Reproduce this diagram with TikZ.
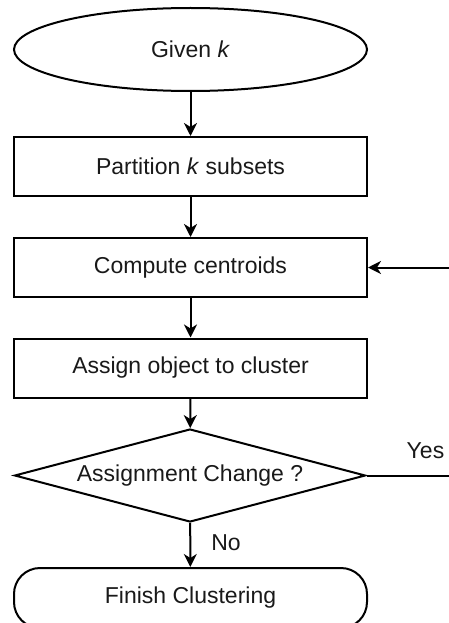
\documentclass[tikz,border=0pt]{standalone}
\usepackage{fontspec}
\setmainfont{Liberation Sans}
\usetikzlibrary{shapes.geometric,arrows.meta}
\begin{document}
\begin{tikzpicture}[x=1pt,y=-1pt,
  every node/.style={font=\fontsize{23}{27}\selectfont, text=black!90},
  base/.style={draw, line width=2pt, inner sep=0pt, align=center},
  oval/.style={base, ellipse, minimum width=353pt, minimum height=83pt},
  stepbox/.style={base, rectangle, minimum width=353pt, minimum height=59pt},
  decision/.style={base, diamond, aspect=3.77, minimum width=351pt, minimum height=93pt},
  terminal/.style={base, rectangle, rounded corners=26pt, minimum width=353pt, minimum height=60pt},
  flow/.style={line width=2pt, -{Stealth[length=13pt,width=13pt,inset=4pt]}},
  lbl/.style={inner sep=0pt}]
  \useasboundingbox (0,0) rectangle (449,623);
  \clip (0,0) rectangle (449,623);

  % process steps
  \node[oval]     (given) at (190.5,49.5) {Given \textit{k}};
  \node[stepbox]  (part)  at (190.5,166.5) {Partition \textit{k} subsets};
  \node[stepbox]  (comp)  at (190.5,267.5) {Compute centroids};
  \node[stepbox]  (asg)   at (190.5,368)   {Assign object to cluster};
  \node[decision] (chg)   at (190,475.5)   {Assignment Change ?};
  \node[terminal] (fin)   at (190.5,598)   {Finish Clustering};

  % loop-back corner, outside the visible frame
  \coordinate (yc) at (470,475.5);

  % connectors
  \draw[flow] (given) -- (part);
  \draw[flow] (part) -- (comp);
  \draw[flow] (comp) -- (asg);
  \draw[flow] (asg) -- (chg);
  \draw[flow] (chg) -- node[lbl, right=20pt, yshift=2pt] {No} (fin);
  \draw[flow] (chg.east) -- node[lbl, above=16pt, pos=0.57] {Yes} (yc) |- (comp.east);
\end{tikzpicture}
\end{document}
